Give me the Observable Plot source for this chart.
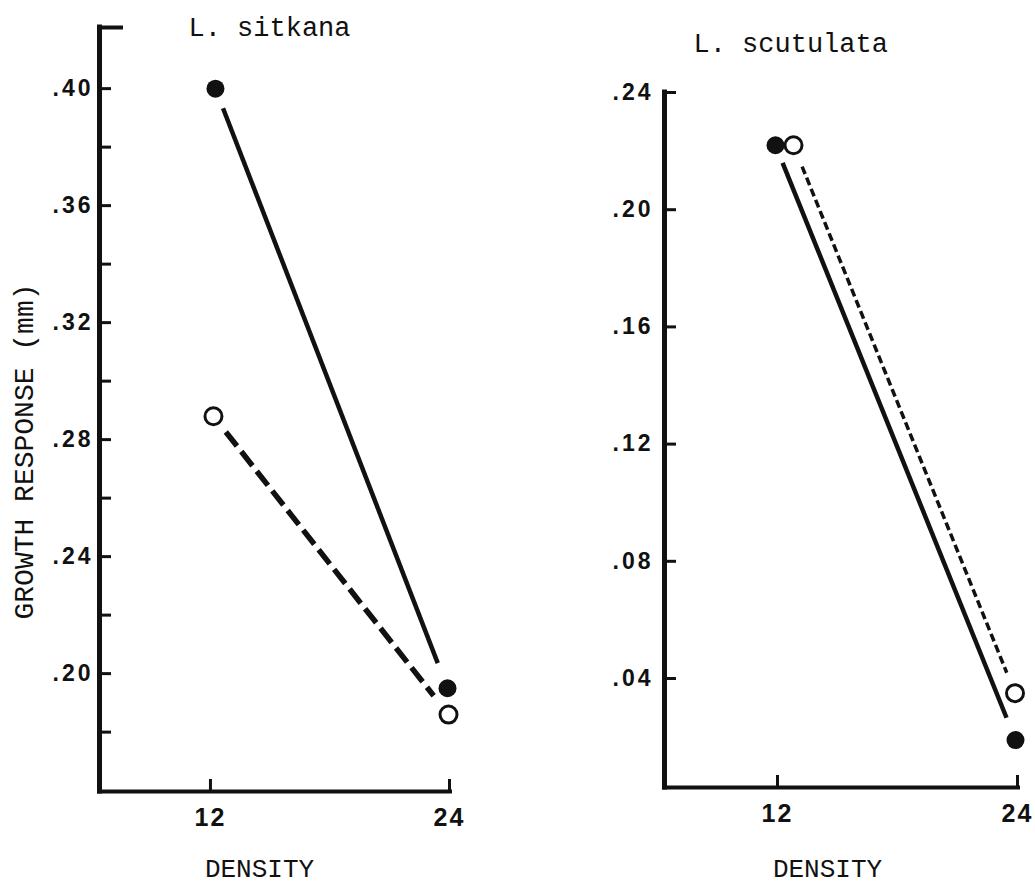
<!DOCTYPE html>
<html>
<head>
<meta charset="utf-8">
<script src="https://cdn.jsdelivr.net/npm/d3@7"></script>
<script src="https://cdn.jsdelivr.net/npm/@observablehq/plot@0.6"></script>
<style>
  html, body { margin: 0; padding: 0; background: #fff; overflow: hidden; }
  #wrap { display: flex; width: 1035px; height: 886px; }
  #wrap svg { display: block; }
  g[aria-label="y-axis tick label"] text { letter-spacing: 3px; }
  g[aria-label="x-axis tick label"] text { letter-spacing: 2px; }
</style>
</head>
<body>
<div id="wrap"></div>
<script>
// ---- data ----
const densities = [12, 24];
const sitkanaFilled = [0.400, 0.195];
const sitkanaOpen = [0.288, 0.186];
const scutulataFilled = [0.222, 0.019];
const scutulataOpen = [0.222, 0.035];
const sitkanaTicks = [0.20, 0.24, 0.28, 0.32, 0.36, 0.40];
const sitkanaTickLabels = [".20", ".24", ".28", ".32", ".36", ".40"];
const sitkanaMinorTicks = [0.18, 0.22, 0.26, 0.30, 0.34, 0.38];
const scutulataTicks = [0.04, 0.08, 0.12, 0.16, 0.20, 0.24];
const scutulataTickLabels = [".04", ".08", ".12", ".16", ".20", ".24"];
const densityTickLabels = ["12", "24"];
const titles = ["L. sitkana", "L. scutulata"];
const yLabel = "GROWTH RESPONSE (mm)";
const xLabel = "DENSITY";

// ---- styling ----
const INK = "#111";
const MONO = "'Liberation Mono', 'DejaVu Sans Mono', monospace";
const SANS = "'Liberation Sans', Arial, sans-serif";

function panel(cfg) {
  const {width, height, margin, xDomain, yDomain, filled, open, ticks, tickLabels,
         minorTicks, topTickSize, title, titleDx, titleDy, nudge, insets,
         dashed, solidWidth, dashedWidth, xLabelDx, xLabelDy, yLabelText, yTickPadding} = cfg;
  const k = (width - margin.left - margin.right) / (xDomain[1] - xDomain[0]);
  const pts = (vals, nud) => densities.map((d, i) => ({x: d + nud[i] / k, y: vals[i]}));
  const filledPts = pts(filled, nudge.filled);
  const openPts = pts(open, nudge.open);
  const seg = p => [{x1: p[0].x, y1: p[0].y, x2: p[1].x, y2: p[1].y}];

  const marks = [
    // axis lines
    Plot.ruleX([xDomain[0]], {stroke: INK, strokeWidth: 5, strokeLinecap: "square"}),
    Plot.ruleY([yDomain[0]], {stroke: INK, strokeWidth: 4, strokeLinecap: "square"}),
    // y ticks (inward)
    Plot.axisY({ticks, tickSize: -12, tickPadding: yTickPadding, strokeWidth: 3,
      tickFormat: d => tickLabels[ticks.indexOf(d)], fontSize: 23, fontWeight: "bold",
      fontFamily: SANS, fill: INK, stroke: INK, label: null}),
    // x ticks (inward)
    Plot.axisX({ticks: densities, tickSize: -12, tickPadding: 29, strokeWidth: 3,
      tickFormat: d => densityTickLabels[densities.indexOf(d)], fontSize: 25, fontWeight: "bold",
      fontFamily: SANS, fill: INK, stroke: INK, label: null}),
    // lines
    Plot.arrow(seg(filledPts), {x1: "x1", y1: "y1", x2: "x2", y2: "y2", headLength: 0,
      insetStart: insets.filled[0], insetEnd: insets.filled[1], stroke: INK,
      strokeWidth: solidWidth, strokeLinecap: "butt"}),
    Plot.arrow(seg(openPts), {x1: "x1", y1: "y1", x2: "x2", y2: "y2", headLength: 0,
      insetStart: insets.open[0], insetEnd: insets.open[1], stroke: INK,
      strokeWidth: dashedWidth, strokeDasharray: dashed, strokeLinecap: "butt"}),
    // points
    Plot.dot(filledPts, {x: "x", y: "y", r: 9, fill: INK, stroke: "none"}),
    Plot.dot(openPts, {x: "x", y: "y", r: 8.5, fill: "white", stroke: INK, strokeWidth: 3}),
    // title
    Plot.text([title], {text: d => d, frameAnchor: "top-left", dx: titleDx, dy: titleDy,
      textAnchor: "start", lineAnchor: "middle", fontSize: 27, fontFamily: MONO, fill: INK}),
    // x label
    Plot.text([xLabel], {text: d => d, frameAnchor: "bottom", dx: xLabelDx, dy: xLabelDy,
      textAnchor: "middle", lineAnchor: "middle", fontSize: 26, fontFamily: MONO, fill: INK})
  ];
  if (minorTicks) {
    marks.push(Plot.axisY({ticks: minorTicks, tickSize: -12, strokeWidth: 3, stroke: INK,
      tickFormat: () => "", label: null}));
  }
  if (topTickSize) {
    marks.push(Plot.axisY({ticks: [yDomain[1]], tickSize: -topTickSize, strokeWidth: 4, stroke: INK,
      tickFormat: () => "", label: null}));
  }
  if (yLabelText) {
    marks.push(Plot.text([yLabelText], {text: d => d, frameAnchor: "left", dx: cfg.yLabelDx, dy: cfg.yLabelDy,
      rotate: -90, textAnchor: "middle", lineAnchor: "middle", fontSize: 28, fontFamily: MONO, fill: INK}));
  }
  return Plot.plot({
    width, height,
    marginLeft: margin.left, marginRight: margin.right, marginTop: margin.top, marginBottom: margin.bottom,
    x: {domain: xDomain},
    y: {domain: yDomain},
    style: {background: "white", color: INK, overflow: "visible"},
    marks
  });
}

const left = panel({
  width: 517, height: 886,
  margin: {left: 99, right: 67, top: 27, bottom: 95},
  xDomain: [6.43, 24.05], yDomain: [0.1597, 0.4209],
  filled: sitkanaFilled, open: sitkanaOpen,
  ticks: sitkanaTicks, tickLabels: sitkanaTickLabels, minorTicks: sitkanaMinorTicks,
  topTickSize: 24, yTickPadding: 18,
  title: titles[0], titleDx: 89, titleDy: -0.5,
  nudge: {filled: [5, -2], open: [3, -1]},
  insets: {filled: [21, 27], open: [20, 24]},
  dashed: "18,7", solidWidth: 4.5, dashedWidth: 5.5,
  xLabelDx: -15.5, xLabelDy: 77.5,
  yLabelText: yLabel, yLabelDx: -75, yLabelDy: 42
});

const right = panel({
  width: 518, height: 886,
  margin: {left: 147, right: 17, top: 92, bottom: 99},
  xDomain: [6.35, 24.05], yDomain: [0.0028, 0.24],
  filled: scutulataFilled, open: scutulataOpen,
  ticks: scutulataTicks, tickLabels: scutulataTickLabels, minorTicks: null,
  topTickSize: 0, yTickPadding: 23,
  title: titles[1], titleDx: 29, titleDy: -49,
  nudge: {filled: [-2, -2], open: [16, -2.5]},
  insets: {filled: [19, 24], open: [23, 22]},
  dashed: "8,4", solidWidth: 4.5, dashedWidth: 3.5,
  xLabelDx: -14, xLabelDy: 81.5,
  yLabelText: null
});

const wrap = document.getElementById("wrap");
wrap.appendChild(left);
wrap.appendChild(right);
</script>
</body>
</html>
